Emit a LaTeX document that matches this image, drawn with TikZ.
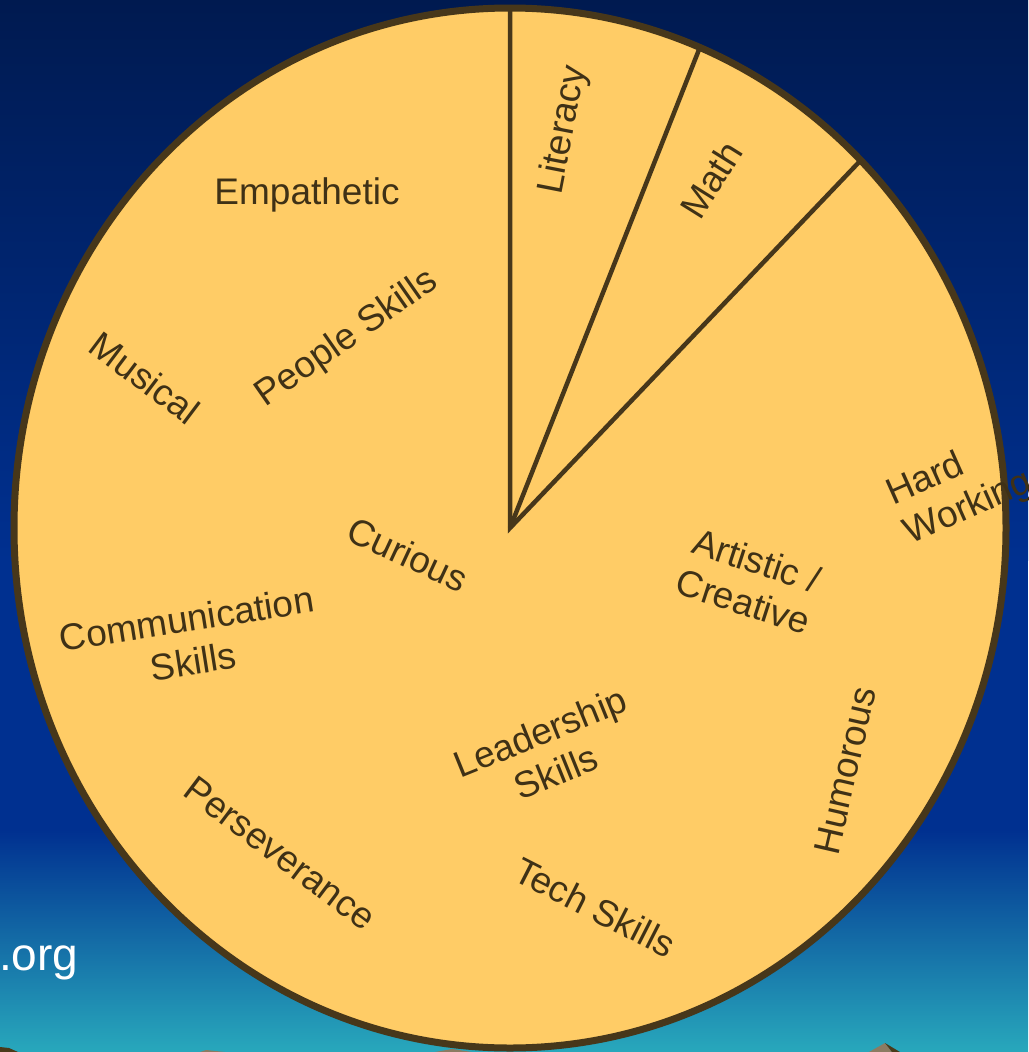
\documentclass[tikz,border=0pt]{standalone}
\usepackage{fontspec}
\setmainfont{Liberation Sans}
\usepackage{xcolor}
\definecolor{skyTop}{HTML}{001A50}
\definecolor{skyMid}{HTML}{003090}
\definecolor{skyLow}{HTML}{28A8BC}
\definecolor{pieFill}{HTML}{FFCC66}
\definecolor{pieLine}{HTML}{47371A}
\definecolor{inkBrown}{HTML}{3F3116}
\definecolor{rockLit}{HTML}{8C7B62}
\definecolor{rockDark}{HTML}{4A3A1A}

\begin{document}
\begin{tikzpicture}[
x=1pt, y=-1pt,
skill/.style={text=inkBrown, font=\fontsize{37}{43}\selectfont, align=center, inner sep=0pt},
rim/.style={draw=pieLine, fill=pieFill, line width=7pt},
spoke/.style={draw=pieLine, line width=4.5pt, line join=miter}
]

\useasboundingbox (0,0) rectangle (1028,1052);

% sky
\shade[top color=skyTop, bottom color=skyMid] (0,0) rectangle (1028,560);
\fill[skyMid] (0,559) rectangle (1028,831);
\shade[top color=skyMid, bottom color=skyLow] (0,830) rectangle (1028,1052);

% rocks at the bottom edge
\fill[rockDark] (0,1047) -- (9,1048) -- (18,1052) -- (0,1052) -- cycle;
\fill[rockLit] (200,1052) -- (206,1050) -- (225,1052) -- cycle;
\fill[rockLit] (435,1052) -- (452,1049) -- (472,1052) -- cycle;
\fill[rockLit] (869,1052) -- (885,1043) -- (892,1052) -- cycle;
\fill[rockDark] (885,1043) -- (900,1052) -- (892,1052) -- cycle;

% pie
\draw[rim] (510,528) ellipse [x radius=496, y radius=520];

\coordinate (hub) at (510,528);
\coordinate (rimA) at (510,8);
\coordinate (rimB) at ({510+496*cos(67.5)},{528-520*sin(67.5)});
\coordinate (rimC) at ({510+496*cos(45)},{528-520*sin(45)});
\draw[spoke] (rimA) -- (hub) -- (rimC);
\draw[spoke] (hub) -- (rimB);

% slice texts
\node[skill] (empathetic) at (307,195) {Empathetic};
\node[skill, rotate=35] (people) at (347,339) {People Skills};
\node[skill, rotate=-37] (musical) at (145,378) {Musical};
\node[skill, rotate=-25] (curious) at (408,554) {Curious};
\node[skill, rotate=79] (literacy) at (564,130) {Literacy};
\node[skill, rotate=58] (math) at (711,180) {Math};
\node[skill, rotate=9] (communication) at (190,640) {Communication\\Skills};
\node[skill, rotate=-37] (perseverance) at (280,853) {Perseverance};
\node[skill, rotate=22] (leadership) at (548,752) {Leadership\\Skills};
\node[skill, rotate=-27] (tech) at (595,907) {Tech Skills};
\node[skill, rotate=77] (humorous) at (845,771) {Humorous};
\node[skill, rotate=-18] (artistic) at (750,581) {Artistic /\\Creative};
\node[skill, rotate=24, align=left] (hardworking) at (960,489) {Hard\\Working};

\node[text=white, font=\fontsize{46}{52}\selectfont, anchor=base west, inner sep=0pt] (site) at (-1,970) {.org};

\end{tikzpicture}
\end{document}
